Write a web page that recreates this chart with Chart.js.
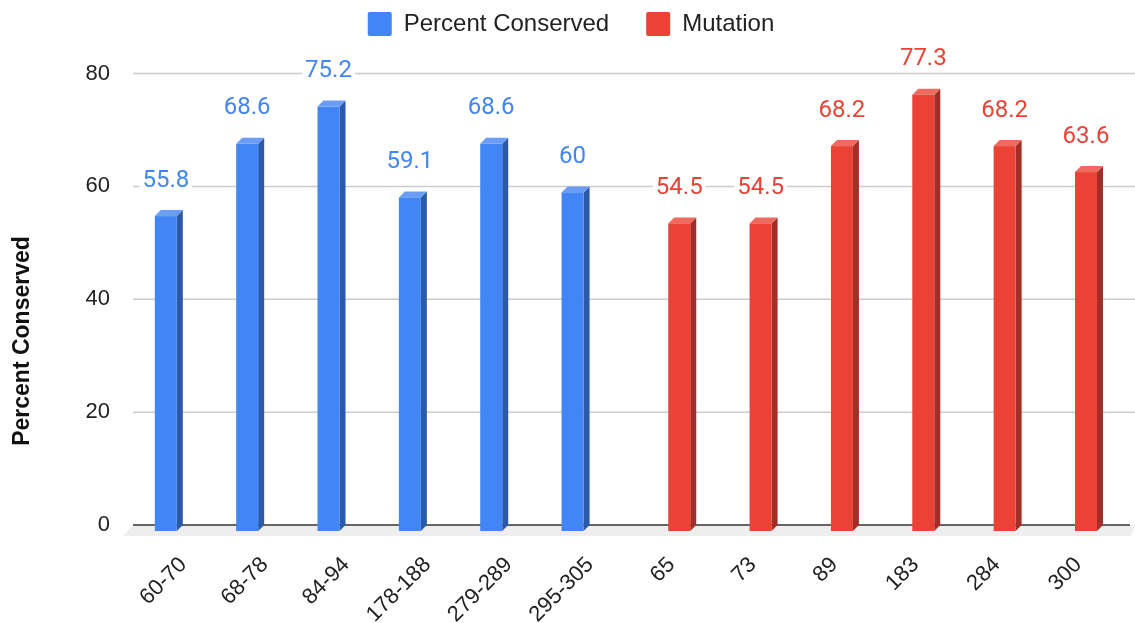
<!DOCTYPE html>
<html>
<head>
<meta charset="utf-8">
<script src="https://cdn.jsdelivr.net/npm/chart.js@4.4.1/dist/chart.umd.min.js"></script>
<style>
html,body{margin:0;padding:0;background:#ffffff;}
#wrap{width:1135px;height:623px;position:relative;}
</style>
</head>
<body>
<div id="wrap"><canvas id="c" width="1135" height="623"></canvas></div>
<script>
// ---- data ----
const categories = ['60-70','68-78','84-94','178-188','279-289','295-305','65','73','89','183','284','300'];
const percentConserved = [55.8, 68.6, 75.2, 59.1, 68.6, 60, null, null, null, null, null, null];
const mutation = [null, null, null, null, null, null, 54.5, 54.5, 68.2, 77.3, 68.2, 63.6];
const yTicks = [0, 20, 40, 60, 80];
const seriesNames = ['Percent Conserved', 'Mutation'];
const yTitle = 'Percent Conserved';

// ---- styles ----
const COLORS = [
  {front:'#4285f4', top:'#6c9df6', side:'#2c5aab', label:'#4285f4'},
  {front:'#ea4335', top:'#ee6a5f', side:'#a12e27', label:'#ea4335'}
];
const DX = 6, DY = 6;
const FONT = "'Liberation Sans', Arial, Helvetica, sans-serif";

const bars3d = {
  id: 'bars3d',
  beforeDatasetsDraw(chart) {
    const ctx = chart.ctx;
    const ys = chart.scales.y;
    ctx.save();
    // gridlines
    ctx.strokeStyle = '#cccccc';
    ctx.lineWidth = 1.5;
    yTicks.forEach(v => {
      if (v === 0) return;
      const py = ys.getPixelForValue(v);
      ctx.beginPath(); ctx.moveTo(133, py); ctx.lineTo(1135, py); ctx.stroke();
    });
    // floor
    const b = ys.getPixelForValue(0);
    ctx.fillStyle = '#eeeeee';
    ctx.beginPath();
    ctx.moveTo(133, b); ctx.lineTo(1135, b); ctx.lineTo(1131, b + 11); ctx.lineTo(123, b + 11);
    ctx.closePath(); ctx.fill();
    ctx.strokeStyle = '#333333';
    ctx.lineWidth = 1.5;
    ctx.beginPath(); ctx.moveTo(133, b); ctx.lineTo(1130, b); ctx.stroke();
    // bars
    const labels = [];
    chart.data.datasets.forEach((ds, di) => {
      const meta = chart.getDatasetMeta(di);
      const c = COLORS[di];
      meta.data.forEach((el, i) => {
        const v = ds.data[i];
        if (v === null || v === undefined) return;
        const p = el.getProps(['x', 'y', 'base', 'width'], true);
        const l = p.x - p.width / 2, r = p.x + p.width / 2, ty = p.y, base = p.base;
        ctx.fillStyle = c.side;
        ctx.beginPath();
        ctx.moveTo(r, ty + DY); ctx.lineTo(r + DX, ty); ctx.lineTo(r + DX, base); ctx.lineTo(r, base + DY);
        ctx.closePath(); ctx.fill();
        ctx.fillStyle = c.top;
        ctx.beginPath();
        ctx.moveTo(l, ty + DY); ctx.lineTo(l + DX, ty); ctx.lineTo(r + DX, ty); ctx.lineTo(r, ty + DY);
        ctx.closePath(); ctx.fill();
        ctx.fillStyle = c.front;
        ctx.fillRect(l, ty + DY, p.width, base - ty);
        labels.push({x: p.x, y: ty, text: String(v), color: c.label});
      });
    });
    // value labels
    ctx.font = "24px Roboto, 'Liberation Sans', sans-serif";
    ctx.textAlign = 'center';
    ctx.textBaseline = 'alphabetic';
    labels.forEach(lb => {
      const w = ctx.measureText(lb.text).width;
      ctx.fillStyle = '#ffffff';
      ctx.fillRect(lb.x - w / 2 - 3, lb.y - 44, w + 6, 26);
      ctx.fillStyle = lb.color;
      ctx.fillText(lb.text, lb.x, lb.y - 23.5);
    });
    ctx.restore();
    return false;
  },
  afterDraw(chart) {
    const ctx = chart.ctx;
    ctx.save();
    ctx.translate(23, 341);
    ctx.rotate(-Math.PI / 2);
    ctx.font = "bold 23px " + FONT;
    ctx.fillStyle = '#111111';
    ctx.textAlign = 'center';
    ctx.textBaseline = 'middle';
    ctx.fillText(yTitle, 0, 0);
    ctx.restore();
  }
};

new Chart(document.getElementById('c'), {
  type: 'bar',
  data: {
    labels: categories,
    datasets: [
      {label: seriesNames[0], data: percentConserved, backgroundColor: COLORS[0].front,
       categoryPercentage: 0.6225, barPercentage: 0.869},
      {label: seriesNames[1], data: mutation, backgroundColor: COLORS[1].front,
       categoryPercentage: 0.6225, barPercentage: 0.869}
    ]
  },
  options: {
    responsive: false,
    devicePixelRatio: 1,
    animation: false,
    layout: {padding: {top: -25, left: 28, right: 21, bottom: 0}},
    plugins: {
      legend: {
        position: 'top',
        labels: {
          boxWidth: 24, boxHeight: 24, padding: 37,
          useBorderRadius: true, borderRadius: 2,
          color: '#222222',
          font: {family: FONT, size: 24}
        }
      },
      title: {
        display: true, text: '', position: 'top', weight: 500,
        font: {size: 1, lineHeight: 1.2},
        padding: {top: 0, bottom: 26.3}
      },
      tooltip: {enabled: false}
    },
    scales: {
      x: {
        offset: true,
        grid: {display: false, drawTicks: false},
        border: {display: false},
        ticks: {
          autoSkip: false, minRotation: 45, maxRotation: 45,
          padding: 27, labelOffset: 5,
          color: '#222222',
          font: {family: FONT, size: 22}
        },
        afterFit(s) { s.height = 98; }
      },
      y: {
        min: 0, max: 80,
        grid: {display: false, drawTicks: false},
        border: {display: false},
        afterBuildTicks(s) { s.ticks = yTicks.map(v => ({value: v})); },
        ticks: {
          padding: 27.8,
          color: '#222222',
          font: {family: FONT, size: 22}
        },
        afterFit(s) { s.width = 109.8; }
      }
    }
  },
  plugins: [bars3d]
});
</script>
</body>
</html>
